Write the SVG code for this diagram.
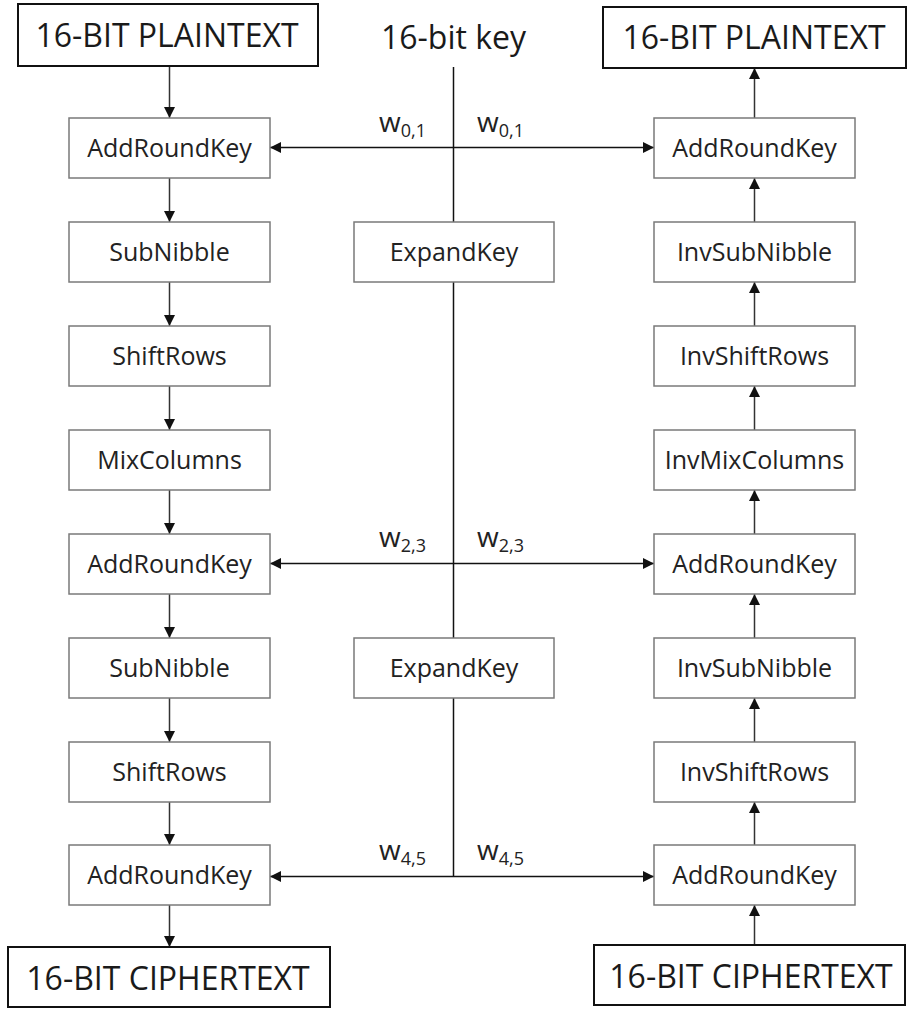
<svg xmlns="http://www.w3.org/2000/svg" width="909" height="1009" viewBox="0 0 909 1009">
  <defs>
    <marker id="arrow" viewBox="0 0 10 10" refX="10" refY="5" markerWidth="11" markerHeight="11" markerUnits="userSpaceOnUse" orient="auto-start-reverse">
      <path d="M0,0 L10,5 L0,10 z" fill="#111"/>
    </marker>
    <style>
      .box { fill: #fff; stroke: #7a7a7a; stroke-width: 1.5; }
      .io { fill: #fff; stroke: #111; stroke-width: 2; }
      .lbl { font-family: "Open Sans", "Liberation Sans", sans-serif; font-size: 25px; fill: #222; text-anchor: middle; }
      .big { font-family: "Open Sans", "Liberation Sans", sans-serif; font-size: 32px; fill: #1a1a1a; text-anchor: middle; }
      .w { font-family: "Open Sans", "Liberation Sans", sans-serif; font-size: 28px; fill: #222; }
      .sub { font-size: 18px; }
      .flow { stroke: #333; stroke-width: 1.5; fill: none; marker-end: url(#arrow); }
      .key { stroke: #111; stroke-width: 1.5; fill: none; }
      .keyarrow { stroke: #111; stroke-width: 1.5; fill: none; marker-start: url(#arrow); marker-end: url(#arrow); }
    </style>
  </defs>
  <rect width="909" height="1009" fill="#fff"/>

  <!-- connectors -->
  <g id="connectors">
    <!-- encryption column (downwards) -->
    <line class="flow" x1="169.5" y1="66" x2="169.5" y2="118"/>
    <line class="flow" x1="169.5" y1="178" x2="169.5" y2="222"/>
    <line class="flow" x1="169.5" y1="282" x2="169.5" y2="326"/>
    <line class="flow" x1="169.5" y1="386" x2="169.5" y2="430"/>
    <line class="flow" x1="169.5" y1="490" x2="169.5" y2="534"/>
    <line class="flow" x1="169.5" y1="594" x2="169.5" y2="638"/>
    <line class="flow" x1="169.5" y1="698" x2="169.5" y2="742"/>
    <line class="flow" x1="169.5" y1="802" x2="169.5" y2="845"/>
    <line class="flow" x1="169.5" y1="905" x2="169.5" y2="947"/>
    <!-- decryption column (upwards) -->
    <line class="flow" x1="754.5" y1="945" x2="754.5" y2="905"/>
    <line class="flow" x1="754.5" y1="845" x2="754.5" y2="802"/>
    <line class="flow" x1="754.5" y1="742" x2="754.5" y2="698"/>
    <line class="flow" x1="754.5" y1="638" x2="754.5" y2="594"/>
    <line class="flow" x1="754.5" y1="534" x2="754.5" y2="490"/>
    <line class="flow" x1="754.5" y1="430" x2="754.5" y2="386"/>
    <line class="flow" x1="754.5" y1="326" x2="754.5" y2="282"/>
    <line class="flow" x1="754.5" y1="222" x2="754.5" y2="178"/>
    <line class="flow" x1="754.5" y1="118" x2="754.5" y2="68"/>
    <!-- key schedule trunk -->
    <line class="key" x1="453.5" y1="67" x2="453.5" y2="222"/>
    <line class="key" x1="453.5" y1="282" x2="453.5" y2="638"/>
    <line class="key" x1="453.5" y1="698" x2="453.5" y2="876.5"/>
    <!-- round key distribution -->
    <line class="keyarrow" x1="270" y1="147.5" x2="654" y2="147.5"/>
    <line class="keyarrow" x1="270" y1="563.5" x2="654" y2="563.5"/>
    <line class="keyarrow" x1="270" y1="876.5" x2="654" y2="876.5"/>
  </g>

  <!-- round key labels -->
  <g id="key-labels">
    <text class="w" x="379" y="132">w<tspan class="sub" dy="5">0,1</tspan></text>
    <text class="w" x="477" y="132">w<tspan class="sub" dy="5">0,1</tspan></text>
    <text class="w" x="379" y="547">w<tspan class="sub" dy="5">2,3</tspan></text>
    <text class="w" x="477" y="547">w<tspan class="sub" dy="5">2,3</tspan></text>
    <text class="w" x="379" y="860">w<tspan class="sub" dy="5">4,5</tspan></text>
    <text class="w" x="477" y="860">w<tspan class="sub" dy="5">4,5</tspan></text>
  </g>

  <!-- inputs / outputs -->
  <g id="enc-plaintext"><rect class="io" x="18" y="4" width="300" height="62"/><text class="big" x="167" y="47">16-BIT PLAINTEXT</text></g>
  <g id="key-input"><text class="big" x="453.5" y="49">16-bit key</text></g>
  <g id="dec-plaintext"><rect class="io" x="603" y="7" width="303" height="61"/><text class="big" x="754" y="49">16-BIT PLAINTEXT</text></g>
  <g id="enc-ciphertext"><rect class="io" x="8" y="947" width="322" height="60"/><text class="big" x="168" y="990">16-BIT CIPHERTEXT</text></g>
  <g id="dec-ciphertext"><rect class="io" x="594" y="945" width="311" height="60"/><text class="big" x="751" y="988">16-BIT CIPHERTEXT</text></g>

  <!-- encryption rounds -->
  <g id="enc-ark0"><rect class="box" x="69" y="118" width="201" height="60"/><text class="lbl" x="169.5" y="157">AddRoundKey</text></g>
  <g id="enc-sub1"><rect class="box" x="69" y="222" width="201" height="60"/><text class="lbl" x="169.5" y="261">SubNibble</text></g>
  <g id="enc-shift1"><rect class="box" x="69" y="326" width="201" height="60"/><text class="lbl" x="169.5" y="365">ShiftRows</text></g>
  <g id="enc-mix1"><rect class="box" x="69" y="430" width="201" height="60"/><text class="lbl" x="169.5" y="469">MixColumns</text></g>
  <g id="enc-ark1"><rect class="box" x="69" y="534" width="201" height="60"/><text class="lbl" x="169.5" y="573">AddRoundKey</text></g>
  <g id="enc-sub2"><rect class="box" x="69" y="638" width="201" height="60"/><text class="lbl" x="169.5" y="677">SubNibble</text></g>
  <g id="enc-shift2"><rect class="box" x="69" y="742" width="201" height="60"/><text class="lbl" x="169.5" y="781">ShiftRows</text></g>
  <g id="enc-ark2"><rect class="box" x="69" y="845" width="201" height="60"/><text class="lbl" x="169.5" y="884">AddRoundKey</text></g>

  <!-- key expansion -->
  <g id="expand1"><rect class="box" x="354" y="222" width="200" height="60"/><text class="lbl" x="454" y="261">ExpandKey</text></g>
  <g id="expand2"><rect class="box" x="354" y="638" width="200" height="60"/><text class="lbl" x="454" y="677">ExpandKey</text></g>

  <!-- decryption rounds -->
  <g id="dec-ark2"><rect class="box" x="654" y="118" width="201" height="60"/><text class="lbl" x="754.5" y="157">AddRoundKey</text></g>
  <g id="dec-invsub1"><rect class="box" x="654" y="222" width="201" height="60"/><text class="lbl" x="754.5" y="261">InvSubNibble</text></g>
  <g id="dec-invshift1"><rect class="box" x="654" y="326" width="201" height="60"/><text class="lbl" x="754.5" y="365">InvShiftRows</text></g>
  <g id="dec-invmix"><rect class="box" x="654" y="430" width="201" height="60"/><text class="lbl" x="754.5" y="469">InvMixColumns</text></g>
  <g id="dec-ark1"><rect class="box" x="654" y="534" width="201" height="60"/><text class="lbl" x="754.5" y="573">AddRoundKey</text></g>
  <g id="dec-invsub2"><rect class="box" x="654" y="638" width="201" height="60"/><text class="lbl" x="754.5" y="677">InvSubNibble</text></g>
  <g id="dec-invshift2"><rect class="box" x="654" y="742" width="201" height="60"/><text class="lbl" x="754.5" y="781">InvShiftRows</text></g>
  <g id="dec-ark0"><rect class="box" x="654" y="845" width="201" height="60"/><text class="lbl" x="754.5" y="884">AddRoundKey</text></g>
</svg>
